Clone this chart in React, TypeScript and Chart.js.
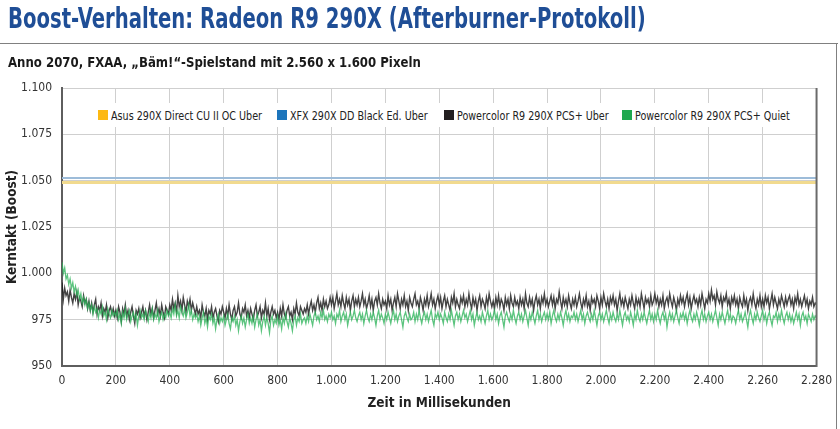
import React, { useEffect, useRef } from "react";
import { Chart, registerables } from "chart.js";

Chart.register(...registerables);

const seriesNames = [
  "Asus 290X Direct CU II OC Uber",
  "XFX 290X DD Black Ed. Uber",
  "Powercolor R9 290X PCS+ Uber",
  "Powercolor R9 290X PCS+ Quiet",
];
const legendColors = ["#fdb913", "#1c75bc", "#231f20", "#1fa84f"];

const xTickLabels = ["0", "200", "400", "600", "800", "1.000", "1.200", "1.400", "1.600", "1.800", "2.000", "2.200", "2.400", "2.260", "2.280"];
const yTickLabels = ["950", "975", "1.000", "1.025", "1.050", "1.075", "1.100"];

// constant boost clocks (MHz), start and end of the log
const lineTimes = [0, 2800];
const asusClock = [1049, 1049];
const xfxClock = [1051.5, 1051.5];

// Powercolor PCS+ Uber, one sample every 5 ms (one row = 100 ms)
const pcsUberClock = [
  995, 986, 992, 988, 990, 985, 991, 987, 984, 989, 986, 990, 983, 987, 985, 982, 988, 984, 986, 981,
  985, 980, 984, 979, 983, 986, 978, 982, 980, 984, 977, 981, 979, 983, 976, 980, 982, 978, 981, 977,
  980, 976, 982, 979, 974, 981, 978, 983, 977, 980, 975, 979, 982, 977, 973, 980, 978, 981, 976, 979,
  982, 977, 980, 975, 979, 983, 978, 981, 976, 980, 984, 978, 981, 977, 983, 979, 976, 982, 980, 978,
  983, 980, 986, 981, 984, 979, 988, 982, 985, 980, 987, 983, 979, 985, 982, 986, 980, 984, 981, 978,
  982, 978, 980, 976, 983, 979, 977, 981, 975, 980, 978, 982, 976, 979, 981, 977, 974, 980, 978, 982,
  979, 976, 981, 977, 983, 978, 975, 980, 982, 977, 979, 984, 978, 976, 981, 979, 983, 977, 980, 976,
  981, 978, 975, 980, 983, 977, 979, 982, 976, 980, 978, 984, 977, 981, 975, 979, 982, 978, 980, 976,
  979, 975, 981, 977, 983, 978, 976, 980, 982, 977, 979, 975, 981, 978, 984, 979, 977, 982, 980, 978,
  981, 979, 983, 978, 982, 985, 980, 983, 979, 984, 987, 981, 984, 980, 986, 982, 985, 981, 983, 987,
  983, 987, 981, 985, 989, 983, 986, 982, 988, 984, 981, 987, 983, 986, 980, 985, 988, 982, 986, 983,
  987, 982, 985, 989, 983, 986, 981, 984, 988, 982, 986, 980, 985, 987, 983, 989, 984, 981, 986, 983,
  985, 981, 988, 983, 986, 980, 984, 987, 982, 989, 985, 981, 986, 983, 988, 982, 985, 980, 987, 984,
  982, 986, 989, 983, 985, 981, 987, 984, 980, 986, 983, 988, 982, 985, 989, 983, 986, 981, 985, 988,
  983, 987, 981, 985, 988, 982, 986, 983, 980, 987, 984, 989, 982, 986, 983, 981, 987, 984, 988, 982,
  986, 983, 989, 984, 981, 987, 983, 986, 980, 985, 988, 982, 986, 984, 981, 987, 983, 989, 985, 982,
  985, 981, 987, 983, 988, 982, 986, 984, 980, 987, 983, 986, 981, 988, 984, 982, 987, 983, 985, 981,
  987, 983, 986, 981, 989, 984, 982, 987, 983, 986, 980, 985, 988, 983, 986, 981, 987, 984, 989, 983,
  986, 982, 985, 988, 983, 987, 981, 986, 984, 990, 985, 981, 987, 983, 986, 982, 988, 984, 981, 986,
  983, 987, 982, 985, 989, 984, 981, 986, 983, 988, 982, 985, 980, 987, 984, 986, 982, 988, 985, 981,
  987, 983, 989, 985, 982, 986, 981, 987, 984, 988, 983, 986, 980, 985, 989, 983, 986, 982, 987, 984,
  981, 986, 983, 988, 984, 981, 987, 983, 986, 982, 989, 985, 981, 987, 984, 986, 982, 988, 983, 985,
  989, 984, 987, 982, 986, 983, 988, 981, 985, 987, 983, 989, 985, 982, 987, 984, 980, 986, 983, 988,
  984, 987, 982, 986, 989, 983, 987, 981, 985, 988, 984, 986, 982, 987, 983, 989, 985, 981, 986, 984,
  989, 985, 991, 986, 988, 983, 990, 986, 984, 988, 982, 987, 985, 989, 983, 986, 981, 987, 984, 988,
  983, 986, 981, 987, 984, 982, 988, 983, 986, 980, 985, 987, 983, 989, 984, 981, 986, 983, 988, 982,
  986, 982, 988, 984, 987, 981, 985, 989, 983, 987, 984, 981, 986, 983, 988, 985, 982, 987, 983, 986,
  988, 983, 986, 981, 987, 984, 989, 983, 986, 982, 985, 988, 983, 986, 981, 985, 983, 987, 982, 984,
  983,
];

// Powercolor PCS+ Quiet, one sample every 5 ms (one row = 100 ms)
const pcsQuietClock = [
  1006, 1000, 1003, 997, 999, 994, 997, 992, 995, 990, 993, 988, 991, 986, 989, 984, 987, 983, 986, 981,
  984, 980, 983, 978, 982, 979, 981, 976, 980, 978, 982, 977, 979, 975, 981, 978, 976, 980, 977, 979,
  977, 980, 975, 978, 973, 979, 976, 981, 975, 978, 980, 974, 977, 979, 975, 978, 972, 977, 980, 976,
  978, 975, 980, 977, 974, 979, 976, 981, 975, 978, 976, 980, 974, 977, 979, 975, 978, 976, 980, 977,
  979, 976, 981, 978, 983, 977, 980, 976, 982, 979, 977, 981, 976, 979, 983, 977, 980, 975, 978, 976,
  978, 974, 977, 972, 976, 979, 973, 976, 971, 977, 975, 978, 973, 976, 970, 975, 978, 973, 976, 974,
  977, 972, 975, 978, 973, 970, 976, 974, 977, 972, 975, 969, 974, 977, 973, 976, 971, 975, 978, 973,
  976, 973, 977, 971, 975, 978, 972, 975, 969, 974, 977, 972, 976, 973, 968, 975, 977, 972, 975, 973,
  977, 972, 975, 970, 976, 973, 978, 974, 971, 976, 973, 969, 975, 977, 972, 976, 974, 978, 973, 975,
  976, 973, 977, 974, 978, 975, 972, 977, 979, 975, 977, 974, 979, 976, 980, 975, 977, 974, 978, 976,
  979, 975, 977, 973, 978, 976, 980, 974, 977, 979, 975, 978, 972, 976, 979, 975, 977, 980, 976, 974,
  977, 979, 975, 978, 973, 977, 980, 976, 974, 978, 975, 979, 976, 972, 977, 980, 975, 978, 976, 973,
  978, 975, 979, 976, 973, 977, 980, 975, 978, 974, 977, 979, 975, 971, 977, 979, 976, 974, 978, 975,
  976, 979, 974, 978, 975, 980, 976, 973, 977, 979, 975, 978, 974, 977, 980, 975, 972, 978, 976, 979,
  975, 978, 976, 973, 979, 976, 974, 978, 975, 980, 976, 972, 977, 979, 975, 978, 974, 977, 980, 976,
  978, 974, 977, 980, 975, 978, 972, 976, 979, 975, 977, 974, 979, 976, 973, 977, 980, 975, 978, 975,
  977, 980, 975, 978, 973, 977, 979, 975, 971, 977, 979, 976, 974, 978, 975, 980, 976, 973, 977, 979,
  975, 978, 974, 977, 980, 976, 972, 978, 975, 979, 976, 973, 977, 980, 975, 978, 974, 977, 979, 975,
  978, 975, 979, 973, 977, 980, 976, 974, 978, 975, 979, 976, 972, 977, 980, 975, 978, 974, 977, 976,
  979, 975, 978, 974, 977, 980, 975, 978, 973, 977, 979, 976, 974, 978, 975, 980, 976, 972, 977, 979,
  975, 978, 974, 977, 980, 976, 973, 978, 975, 979, 976, 974, 978, 975, 980, 976, 972, 977, 979, 975,
  977, 974, 979, 976, 972, 978, 975, 980, 976, 974, 978, 975, 979, 976, 973, 977, 980, 975, 978, 974,
  978, 975, 980, 976, 973, 977, 979, 975, 978, 971, 976, 979, 975, 978, 974, 977, 980, 976, 973, 978,
  976, 979, 975, 978, 973, 977, 980, 976, 974, 978, 975, 979, 976, 972, 977, 980, 975, 978, 974, 977,
  979, 975, 978, 974, 977, 980, 976, 972, 978, 975, 979, 976, 973, 977, 980, 975, 978, 974, 977, 976,
  973, 977, 980, 975, 978, 974, 976, 979, 975, 971, 977, 980, 976, 973, 978, 975, 979, 976, 974, 977,
  980, 975, 978, 973, 977, 979, 975, 972, 977, 976, 979, 974, 978, 975, 980, 976, 973, 977, 979, 975,
  978, 974, 977, 973, 976, 979, 975, 978, 972, 977, 979, 975, 977, 973, 978, 976, 974, 978, 975, 977,
  976,
];

const SAMPLE_MS = 5;
const FONT = "'DejaVu Sans Condensed', 'Liberation Sans Narrow', 'Liberation Sans', sans-serif";

const toPoints = (times: number[], vals: number[]) => vals.map((v, i) => ({ x: times[i], y: v }));
const sampleTimes = pcsUberClock.map((_, i) => i * SAMPLE_MS);

const rightBorder = {
  id: "rightBorder",
  afterDraw(chart: any) {
    const { ctx, chartArea } = chart;
    ctx.save();
    ctx.strokeStyle = "#6a6a6a";
    ctx.lineWidth = 2;
    ctx.beginPath();
    ctx.moveTo(chartArea.right, chartArea.top);
    ctx.lineTo(chartArea.right, chartArea.bottom + 1);
    ctx.stroke();
    ctx.restore();
  },
};

export default function App() {
  const ref = useRef<HTMLCanvasElement>(null);

  useEffect(() => {
    if (!ref.current) return;
    const chart = new Chart(ref.current, {
      type: "line",
      data: {
        datasets: [
          {
            label: seriesNames[0],
            data: toPoints(lineTimes, asusClock),
            borderColor: "#f1da8e",
            borderWidth: 3,
            pointRadius: 0,
            order: 3,
          },
          {
            label: seriesNames[1],
            data: toPoints(lineTimes, xfxClock),
            borderColor: "#9dbcd9",
            borderWidth: 2,
            pointRadius: 0,
            order: 2,
          },
          {
            label: seriesNames[2],
            data: toPoints(sampleTimes, pcsUberClock),
            borderColor: "rgba(20,20,20,0.8)",
            borderWidth: 1.4,
            pointRadius: 0,
            order: 1,
          },
          {
            label: seriesNames[3],
            data: toPoints(sampleTimes, pcsQuietClock),
            borderColor: "rgba(45,180,90,0.78)",
            borderWidth: 1.3,
            pointRadius: 0,
            order: 0,
          },
        ],
      },
      options: {
        animation: false,
        responsive: false,
        layout: { padding: { top: 88, right: 18, bottom: 13, left: 0 } },
        plugins: { legend: { display: false }, tooltip: { enabled: false } },
        scales: {
          x: {
            type: "linear",
            min: 0,
            max: 2800,
            afterFit: (s: any) => { s.height = 50; },
            grid: { color: "#cfcfcf", lineWidth: 1, drawTicks: false },
            border: { color: "#5e5e5e", width: 2 },
            ticks: {
              stepSize: 200,
              autoSkip: false,
              maxRotation: 0,
              padding: 8,
              color: "#333",
              font: { family: FONT, size: 12 },
              callback: (v: any) => xTickLabels[Math.round(Number(v) / 200)],
            },
            title: {
              display: true,
              text: "Zeit in Millisekunden",
              color: "#222",
              font: { family: FONT, size: 13.5, weight: "bold" },
            },
          },
          y: {
            min: 950,
            max: 1100,
            afterFit: (s: any) => { s.width = 62; },
            grid: { color: "#cfcfcf", lineWidth: 1, drawTicks: false },
            border: { color: "#5e5e5e", width: 2 },
            ticks: {
              stepSize: 25,
              padding: 10,
              color: "#333",
              font: { family: FONT, size: 12 },
              callback: (v: any) => yTickLabels[Math.round((Number(v) - 950) / 25)],
            },
            title: {
              display: true,
              text: "Kerntakt (Boost)",
              color: "#222",
              font: { family: FONT, size: 13.5, weight: "bold" },
            },
          },
        },
      },
      plugins: [rightBorder],
    });
    return () => chart.destroy();
  }, []);

  const legendLefts = [98, 277, 444, 622];

  return (
    <div style={{ position: "absolute", left: 0, top: 0, width: 840, height: 429, background: "#fff", overflow: "hidden", fontFamily: FONT }}>
      <canvas ref={ref} width={840} height={429} style={{ position: "absolute", left: 0, top: 0, width: 840, height: 429 }} />
      <div style={{ position: "absolute", left: 8, top: 2, fontSize: 28, fontWeight: "bold", color: "#1f4e96", whiteSpace: "nowrap", lineHeight: "34px", transform: "scaleX(0.78)", transformOrigin: "0 0" }}>
        Boost-Verhalten: Radeon R9 290X (Afterburner-Protokoll)
      </div>
      <div style={{ position: "absolute", left: 0, top: 43, width: 838, height: 0, borderTop: "1.5px solid #808080" }} />
      <div style={{ position: "absolute", left: 836, top: 43, width: 0, height: 386, borderLeft: "1.5px solid #808080" }} />
      <div style={{ position: "absolute", left: 8, top: 52, fontSize: 14.5, fontWeight: "bold", color: "#1a1a1a", whiteSpace: "nowrap", lineHeight: "20px", transform: "scaleX(0.9)", transformOrigin: "0 0" }}>
        Anno 2070, FXAA, „Bäm!“-Spielstand mit 2.560 x 1.600 Pixeln
      </div>
      <div style={{ position: "absolute", left: 94, top: 103, width: 698, height: 24, background: "#fff" }}>
        {seriesNames.map((name, i) => (
          <div key={name} style={{ position: "absolute", left: legendLefts[i] - 94, top: 0, height: 24, display: "flex", alignItems: "center", whiteSpace: "nowrap", fontSize: 13, color: "#222" }}>
            <span style={{ display: "inline-block", width: 10, height: 10, background: legendColors[i], marginRight: 3 }} />
            <span style={{ display: "inline-block", transform: "scaleX(0.82)", transformOrigin: "0 50%" }}>{name}</span>
          </div>
        ))}
      </div>
    </div>
  );
}
